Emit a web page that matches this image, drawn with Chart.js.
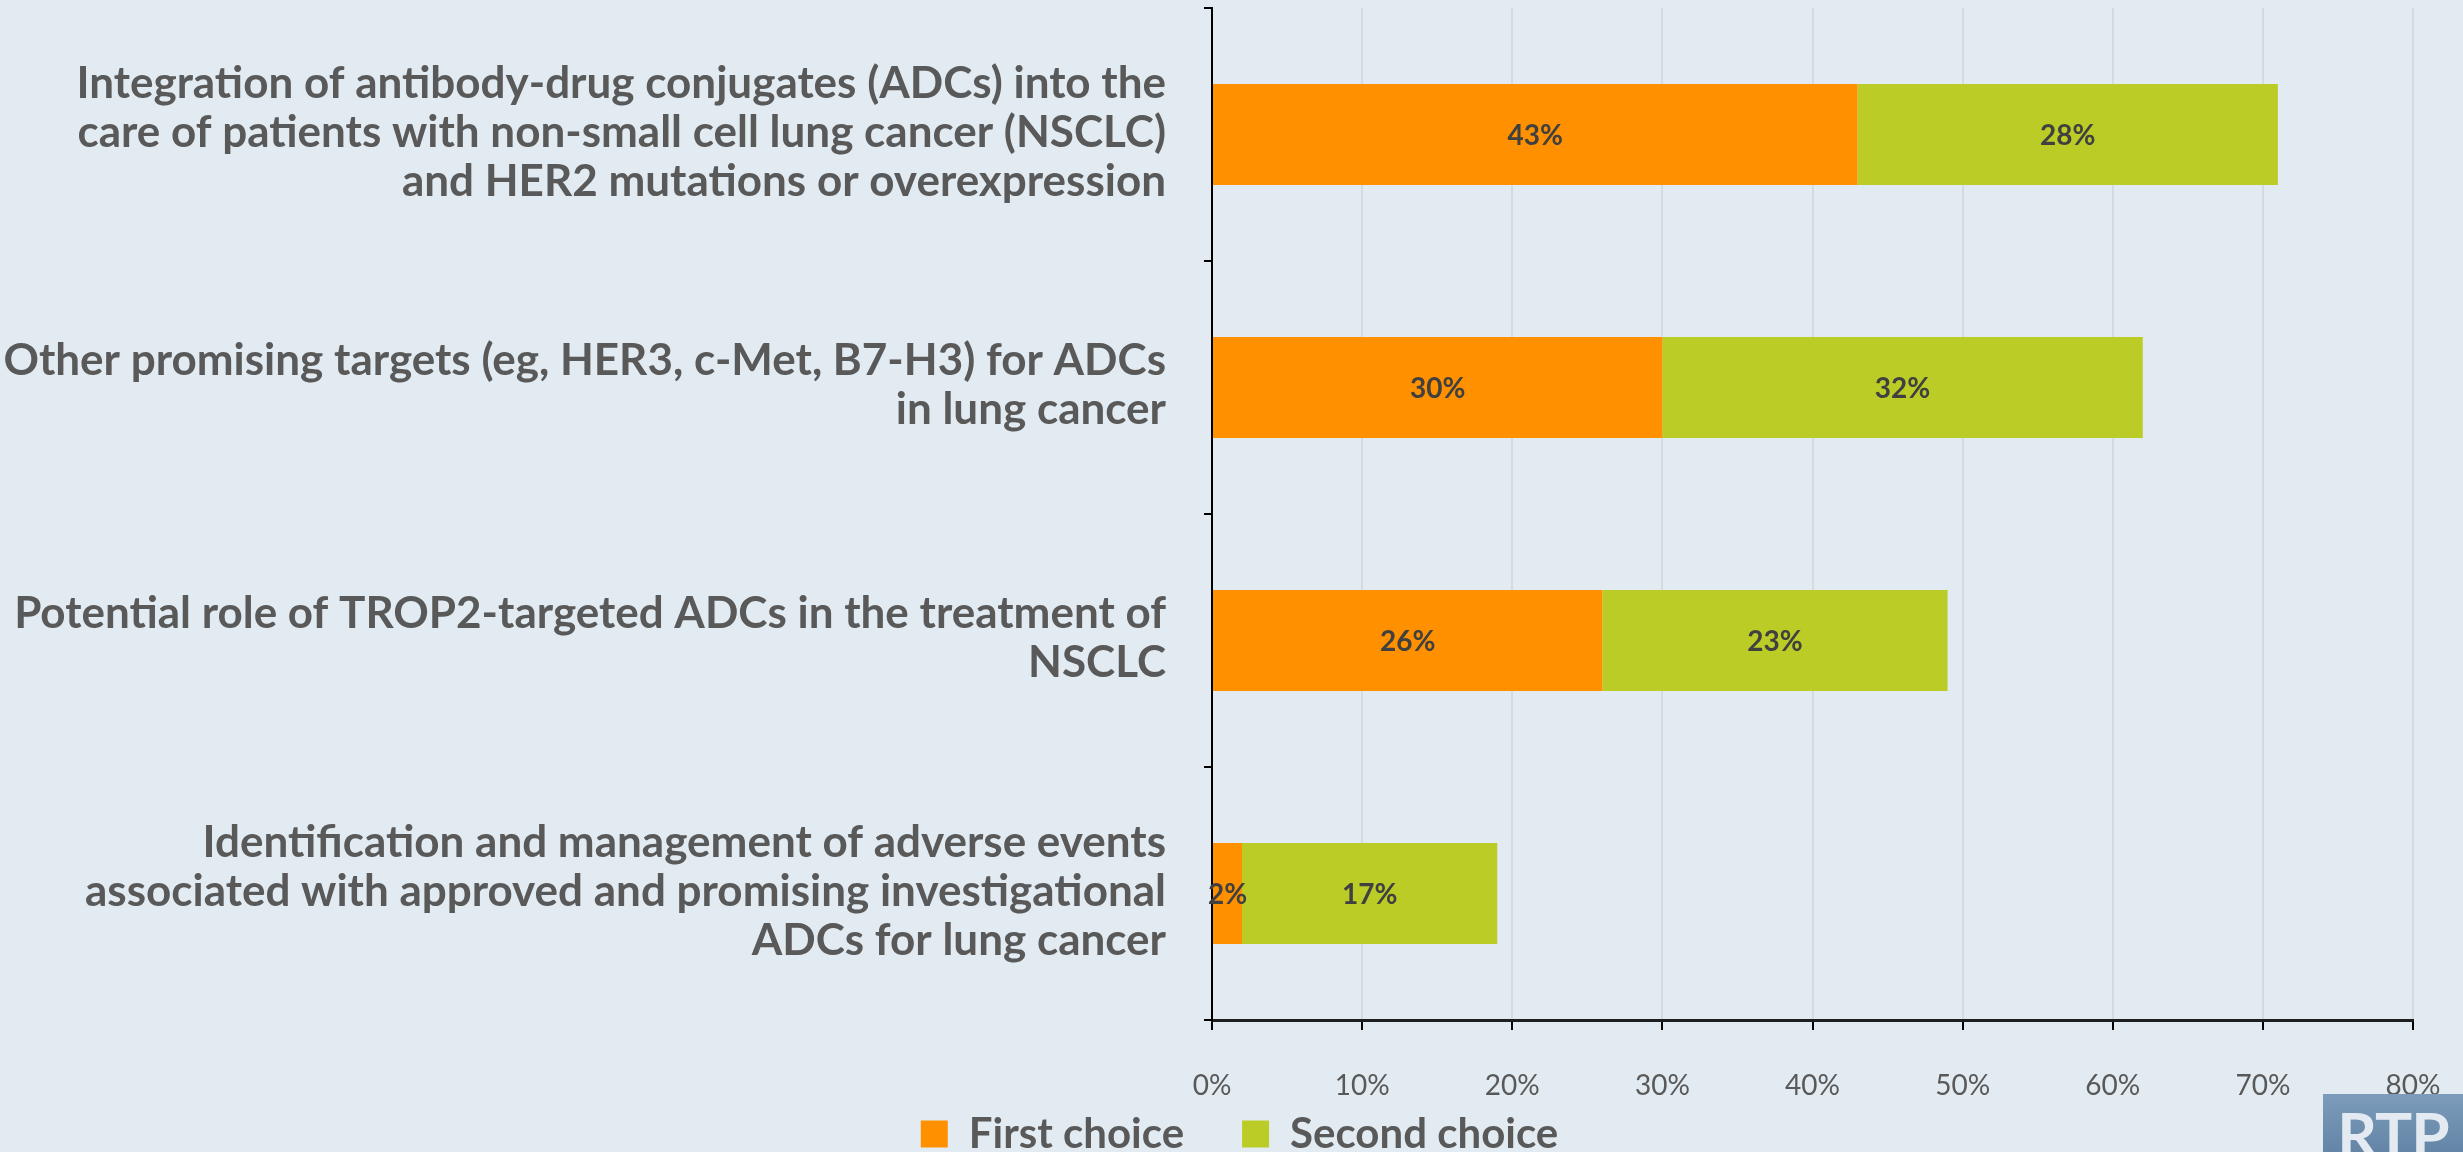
<!DOCTYPE html>
<html>
<head>
<meta charset="utf-8">
<title>ADC topics in lung cancer</title>
<script src="https://cdn.jsdelivr.net/npm/chart.js@4.4.1/dist/chart.umd.min.js"></script>
<style>
  html, body { margin: 0; padding: 0; background: #e2ebf1; }
  #wrap { position: relative; width: 2463px; height: 1152px; overflow: hidden; background: #e2ebf1; }
  #chart { position: absolute; left: 0; top: 0; }
  #logo {
    position: absolute; left: 2323px; top: 1094px; width: 140px; height: 70px;
    background: linear-gradient(#7d9cbb, #5f80a2);
    color: #e3eaf1; font: bold 62px Lato, sans-serif;
    text-align: center; line-height: 78px; letter-spacing: -1px;
  }
</style>
</head>
<body>
<div id="wrap">
  <canvas id="chart" width="2463" height="1152"></canvas>
  <div id="logo">RTP</div>
</div>
<script>
// Survey topics, one array of text lines per category
const categories = [
  ["Integration of antibody-drug conjugates (ADCs) into the",
   "care of patients with non-small cell lung cancer (NSCLC)",
   "and HER2 mutations or overexpression"],
  ["Other promising targets (eg, HER3, c-Met, B7-H3) for ADCs",
   "in lung cancer"],
  ["Potential role of TROP2-targeted ADCs in the treatment of",
   "NSCLC"],
  ["Identification and management of adverse events",
   "associated with approved and promising investigational",
   "ADCs for lung cancer"]
];

const seriesNames = ["First choice", "Second choice"];
const firstChoice = [43, 30, 26, 2];
const secondChoice = [28, 32, 23, 17];

// Percent axis ticks
const xTickValues = [0, 10, 20, 30, 40, 50, 60, 70, 80];

const FONT = 'Lato, "Open Sans", sans-serif';
const TEXT = '#595959';
const PAD_LEFT = 66;
const PLOT_LEFT = 1212;
const PLOT_BOTTOM = 1020;
const PAD_BOTTOM = -13;

// Writes each segment's percentage in the middle of its bar
const barValueLabels = {
  id: 'barValueLabels',
  afterDatasetsDraw(chart) {
    const ctx = chart.ctx;
    ctx.save();
    ctx.font = 'bold 28px ' + FONT;
    ctx.fillStyle = '#404040';
    ctx.textAlign = 'center';
    ctx.textBaseline = 'middle';
    chart.data.datasets.forEach((ds, di) => {
      const meta = chart.getDatasetMeta(di);
      meta.data.forEach((bar, i) => {
        const p = bar.getProps(['x', 'y', 'base'], true);
        ctx.fillText(ds.data[i] + '%', (p.x + p.base) / 2, p.y + 1);
      });
    });
    ctx.restore();
  }
};

// Axis labels may run into the page margins: widen the scale boxes they are clipped to
const axisLabelRoom = {
  id: 'axisLabelRoom',
  afterLayout(chart) {
    chart.scales.x.bottom = chart.height;
    chart.scales.y.left = 0;
  }
};

new Chart(document.getElementById('chart'), {
  type: 'bar',
  data: {
    labels: categories,
    datasets: [
      { label: seriesNames[0], data: firstChoice, backgroundColor: '#ff9000' },
      { label: seriesNames[1], data: secondChoice, backgroundColor: '#bccc26' }
    ]
  },
  options: {
    indexAxis: 'y',
    responsive: false,
    animation: false,
    devicePixelRatio: 1,
    layout: { padding: { left: PAD_LEFT, right: 50, top: 8, bottom: PAD_BOTTOM } },
    datasets: { bar: { barPercentage: 0.4, categoryPercentage: 1.0, borderWidth: 0 } },
    scales: {
      x: {
        stacked: true,
        min: xTickValues[0],
        max: xTickValues[xTickValues.length - 1],
        afterFit(scale) {
          const legendH = scale.chart.legend ? scale.chart.legend.height : 0;
          scale.height = scale.chart.height - PAD_BOTTOM - legendH - PLOT_BOTTOM;
          scale.paddingLeft = 0;
          scale.paddingRight = 0;
        },
        ticks: {
          stepSize: xTickValues[1] - xTickValues[0],
          autoSkip: false,
          callback: v => v + '%',
          color: TEXT,
          font: { family: FONT, size: 28 },
          padding: 39,
          maxRotation: 0
        },
        grid: { color: '#d6dadd', lineWidth: 2, tickColor: '#000', tickLength: 10, tickWidth: 2 },
        border: { color: '#1e1e1e', width: 3 }
      },
      y: {
        stacked: true,
        afterFit(scale) {
          scale.width = PLOT_LEFT - PAD_LEFT;
          scale.paddingTop = 0;
          scale.paddingBottom = 0;
        },
        ticks: {
          color: TEXT,
          font: { family: FONT, size: 44, weight: 'bold', lineHeight: 1.11 },
          padding: 38,
          labelOffset: -2
        },
        grid: { drawOnChartArea: false, offset: true, tickColor: '#000', tickLength: 8, lineWidth: 2 },
        border: { color: '#000', width: 2 }
      }
    },
    plugins: {
      tooltip: { enabled: false },
      legend: {
        position: 'bottom',
        labels: {
          boxWidth: 27, boxHeight: 27,
          padding: 58,
          color: TEXT,
          font: { family: FONT, size: 42, weight: 'bold' }
        }
      }
    }
  },
  plugins: [barValueLabels, axisLabelRoom]
});
</script>
</body>
</html>
